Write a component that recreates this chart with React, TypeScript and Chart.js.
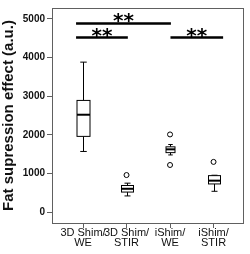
import { useEffect, useRef } from 'react';
import { Chart, registerables } from 'chart.js';

Chart.register(...registerables);

// ---- data ----
const categories = [['3D Shim/', 'WE'], ['3D Shim/', 'STIR'], ['iShim/', 'WE'], ['iShim/', 'STIR']];
const categoryPositions = [1, 2, 3, 4];
const whiskerLow = [1570, 420, 1480, 540];
const q1 = [1960, 520, 1540, 730];
const median = [2520, 605, 1625, 815];
const q3 = [2890, 690, 1690, 945];
const whiskerHigh = [3880, 750, 1750, 955];
const outlierCategory = [2, 3, 3, 4];
const outlierValue = [960, 2010, 1220, 1300];
const yTicks = [0, 1000, 2000, 3000, 4000, 5000];
const sigFrom = [0.84, 0.84, 3.01];
const sigTo = [3.02, 2.03, 4.22];
const sigLevel = [4880, 4515, 4515];
const sigLabel = ['**', '**', '**'];

// ---- style ----
const boxWidthsPx = [13, 12, 9, 12];
const axisColor = '#606060';
const FONT = "'Liberation Sans', Arial, sans-serif";

const boxPlugin = {
  id: 'boxes',
  beforeDatasetsDraw(chart: any) {
    const { ctx, scales } = chart;
    const xs = scales.x;
    const ys = scales.y;
    ctx.save();
    ctx.strokeStyle = '#000';
    ctx.fillStyle = '#fff';
    categoryPositions.forEach((pos, i) => {
      const cx = Math.round(xs.getPixelForValue(pos)) + 0.5;
      const w = boxWidthsPx[i];
      const half = w / 2;
      const yLo = ys.getPixelForValue(whiskerLow[i]);
      const yQ1 = ys.getPixelForValue(q1[i]);
      const yMed = ys.getPixelForValue(median[i]);
      const yQ3 = ys.getPixelForValue(q3[i]);
      const yHi = ys.getPixelForValue(whiskerHigh[i]);
      ctx.lineWidth = 1;
      ctx.beginPath();
      ctx.moveTo(cx, yQ3);
      ctx.lineTo(cx, yHi);
      ctx.moveTo(cx, yQ1);
      ctx.lineTo(cx, yLo);
      ctx.moveTo(cx - half / 2, yHi);
      ctx.lineTo(cx + half / 2, yHi);
      ctx.moveTo(cx - half / 2, yLo);
      ctx.lineTo(cx + half / 2, yLo);
      ctx.stroke();
      ctx.fillRect(cx - half, yQ3, w, yQ1 - yQ3);
      ctx.strokeRect(cx - half, yQ3, w, yQ1 - yQ3);
      ctx.lineWidth = 2;
      ctx.beginPath();
      ctx.moveTo(cx - half, yMed);
      ctx.lineTo(cx + half, yMed);
      ctx.stroke();
    });
    ctx.restore();
  },
  afterDraw(chart: any) {
    const { ctx, chartArea, scales } = chart;
    ctx.save();
    ctx.strokeStyle = axisColor;
    ctx.lineWidth = 1;
    ctx.strokeRect(
      Math.round(chartArea.left) + 0.5,
      Math.round(chartArea.top) + 0.5,
      Math.round(chartArea.right - chartArea.left) - 1,
      Math.round(chartArea.bottom - chartArea.top)
    );
    ctx.fillStyle = '#000';
    ctx.font = "bold 20px 'DejaVu Sans', sans-serif";
    ctx.textAlign = 'center';
    ctx.textBaseline = 'alphabetic';
    sigLabel.forEach((lbl, i) => {
      const cx = scales.x.getPixelForValue((sigFrom[i] + sigTo[i]) / 2);
      const y = scales.y.getPixelForValue(sigLevel[i]);
      ctx.fillText(lbl, cx, y + 4);
    });
    ctx.restore();
  },
};

export default function App() {
  const ref = useRef<HTMLCanvasElement | null>(null);
  useEffect(() => {
    if (!ref.current) return;
    const sigDatasets = sigFrom.map((f, i) => ({
      type: 'line' as const,
      data: [
        { x: f, y: sigLevel[i] },
        { x: sigTo[i], y: sigLevel[i] },
      ],
      borderColor: '#000',
      borderWidth: 2.5,
      pointRadius: 0,
      showLine: true,
    }));
    const chart = new Chart(ref.current, {
      type: 'scatter',
      data: {
        datasets: [
          {
            data: outlierCategory.map((c, i) => ({ x: c, y: outlierValue[i] })),
            pointStyle: 'circle',
            pointRadius: 2.5,
            borderColor: '#000',
            backgroundColor: '#fff',
            borderWidth: 1,
          } as any,
          ...sigDatasets,
        ],
      },
      options: {
        responsive: false,
        animation: false,
        layout: { padding: { top: 5, right: 6, left: 0, bottom: 0 } },
        plugins: { legend: { display: false }, tooltip: { enabled: false } },
        scales: {
          x: {
            type: 'linear',
            min: 0.287,
            max: 4.7,
            afterBuildTicks: (s: any) => {
              s.ticks = categoryPositions.map((v) => ({ value: v }));
            },
            afterFit: (s: any) => {
              s.height = 31;
            },
            border: { display: false },
            grid: { drawOnChartArea: false, tickLength: 5, color: axisColor },
            ticks: {
              autoSkip: false,
              maxRotation: 0,
              minRotation: 0,
              padding: 0,
              color: '#111',
              font: { family: FONT, size: 11, lineHeight: 0.92 },
              callback: (v: any) => {
                const idx = categoryPositions.indexOf(Number(v));
                return idx >= 0 ? categories[idx] : '';
              },
            },
          },
          y: {
            type: 'linear',
            min: -280,
            max: 5280,
            afterBuildTicks: (s: any) => {
              s.ticks = yTicks.map((v) => ({ value: v }));
            },
            afterFit: (s: any) => {
              s.width = 52;
            },
            border: { display: false },
            grid: { drawOnChartArea: false, tickLength: 5, color: axisColor },
            ticks: {
              padding: 2,
              color: '#111',
              font: { family: FONT, size: 10, weight: 'bold' },
              callback: (v: any) => String(v),
            },
            title: {
              display: true,
              text: 'Fat supression effect (a.u.)',
              color: '#111',
              font: { family: FONT, size: 15, weight: 'bold' },
              padding: { top: 0, bottom: 0 },
            },
          },
        },
      },
      plugins: [boxPlugin],
    } as any);
    return () => chart.destroy();
  }, []);
  return (
    <div style={{ position: 'absolute', left: 0, top: 0, width: 250, height: 254 }}>
      <canvas ref={ref} width={250} height={254} style={{ display: 'block' }} />
    </div>
  );
}
